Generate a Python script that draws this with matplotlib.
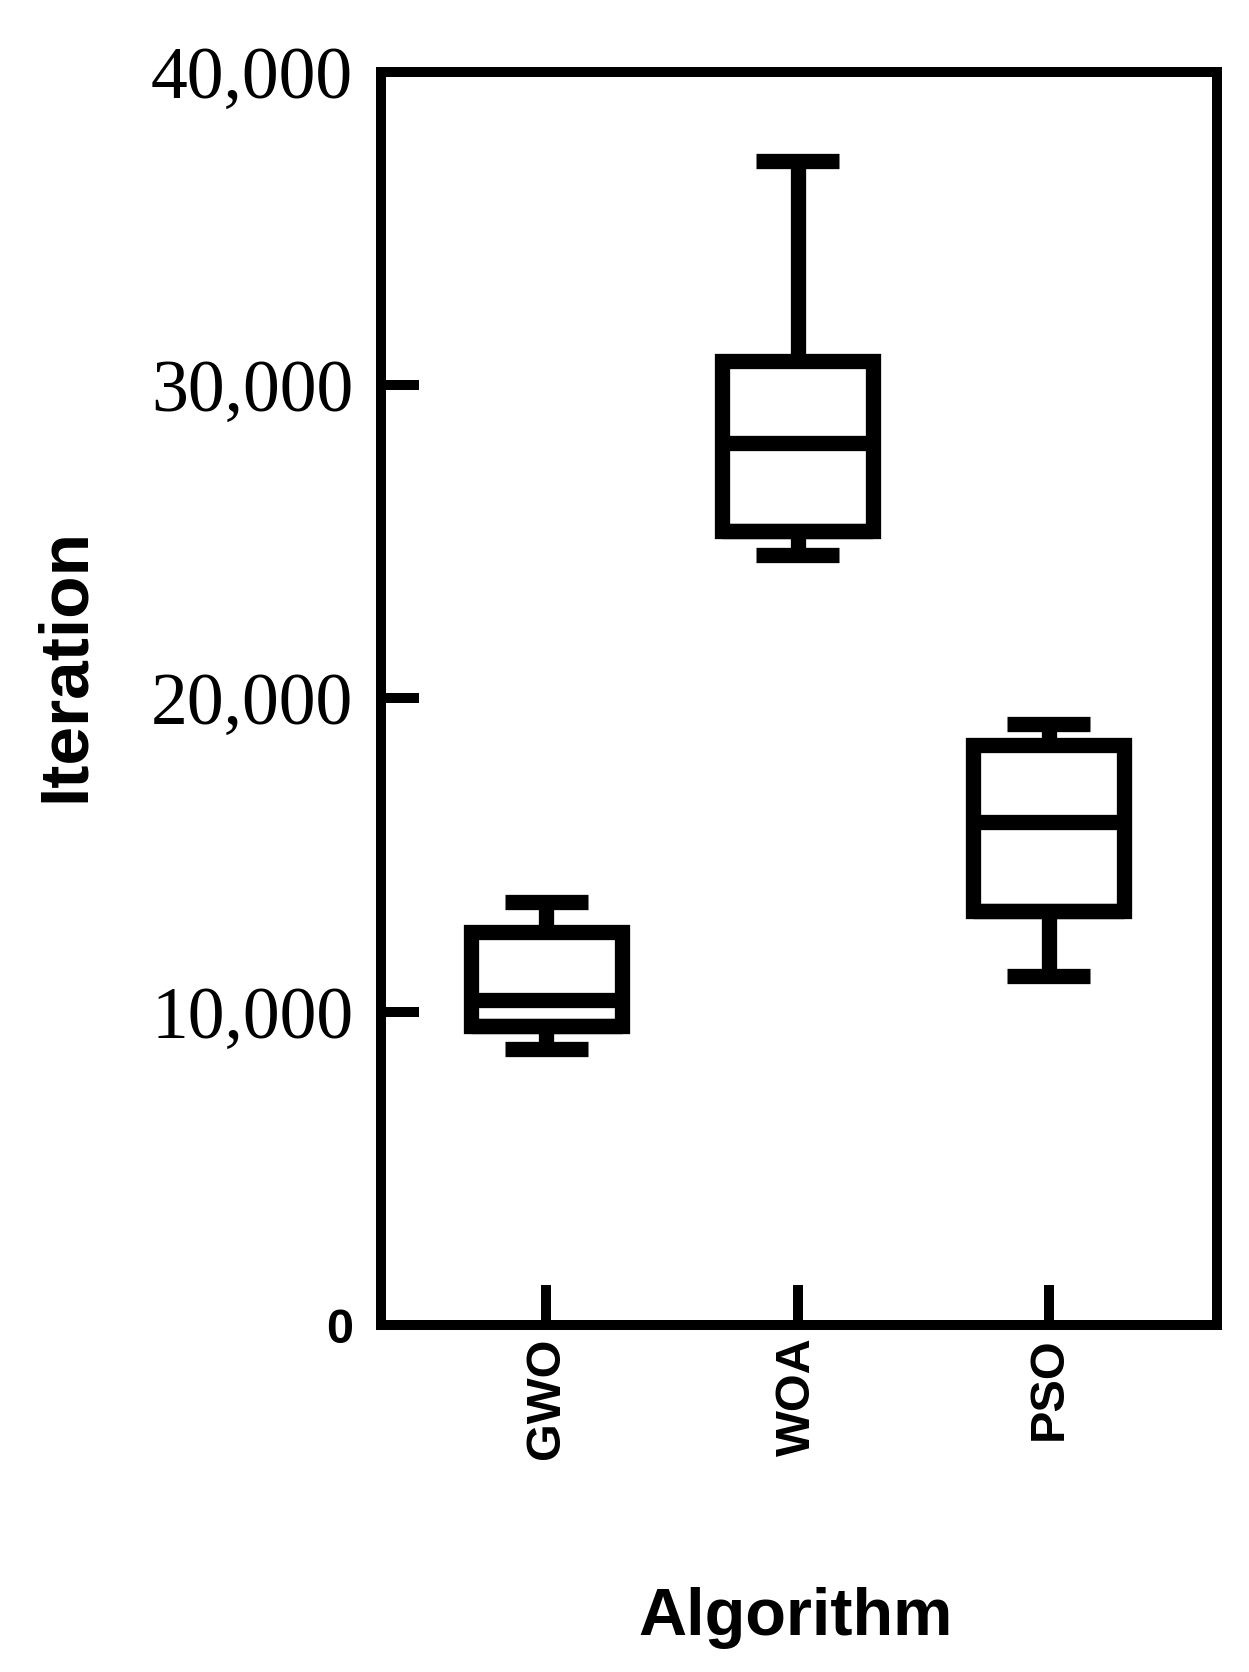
"""Box plot of iterations per optimisation algorithm."""

import matplotlib
matplotlib.use("Agg")
import matplotlib.pyplot as plt

# values
algorithms = ["GWO", "WOA", "PSO"]
whisker_low = [8820, 24570, 11150]
q1 = [9550, 25330, 13230]
median = [10380, 28150, 16070]
q3 = [12560, 30770, 18500]
whisker_high = [13510, 37160, 19200]

y_ticks = [0, 10000, 20000, 30000, 40000]
y_tick_labels = ["0", "10,000", "20,000", "30,000", "40,000"]

stats = [
    {"label": name, "whislo": lo, "q1": a, "med": m, "q3": b, "whishi": hi}
    for name, lo, a, m, b, hi in zip(algorithms, whisker_low, q1, median, q3, whisker_high)
]

fig = plt.figure(figsize=(12.49, 16.72), dpi=100)
ax = fig.add_axes([0.305, 0.2075, 0.6695, 0.7495])

lw = 11
line = dict(color="black", linewidth=lw, solid_capstyle="butt", solid_joinstyle="miter")
parts = ax.bxp(
    stats,
    positions=[1, 2, 3],
    widths=0.6,
    capwidths=0.33,
    showfliers=False,
    boxprops=line,
    medianprops=line,
    whiskerprops=line,
    capprops=line,
)

# run each box outline once more past its first corner so every corner is mitred
for b in parts["boxes"]:
    xs, ys = b.get_data()
    b.set_data(list(xs) + [xs[1]], list(ys) + [ys[1]])

ax.set_xlim(0.341, 3.67)
ax.set_ylim(0, 40000)

for spine in ax.spines.values():
    spine.set_linewidth(7.2)
    spine.set_color("black")

ax.set_yticks(y_ticks)
ax.set_yticklabels(y_tick_labels, fontfamily="Liberation Serif", fontsize=53)
ax.tick_params(axis="y", direction="in", length=27, width=7.2, pad=20)
zero = ax.get_yticklabels()[0]
zero.set_fontfamily("Liberation Sans")
zero.set_fontweight("bold")
zero.set_fontsize(35)

ax.set_xticks([1, 2, 3])
ax.set_xticklabels(algorithms, rotation=90, fontfamily="Liberation Sans",
                   fontweight="bold", fontsize=35)
ax.tick_params(axis="x", direction="in", length=29, width=7.2, pad=9)

fig.text(0.637, 0.022, "Algorithm", ha="center", va="baseline",
         fontfamily="Liberation Sans", fontweight="bold", fontsize=48)
fig.text(0.053, 0.602, "Iteration", ha="center", va="center", rotation=90,
         fontfamily="Liberation Sans", fontweight="bold", fontsize=50)

fig.savefig("out.png", dpi=100)
plt.close(fig)
